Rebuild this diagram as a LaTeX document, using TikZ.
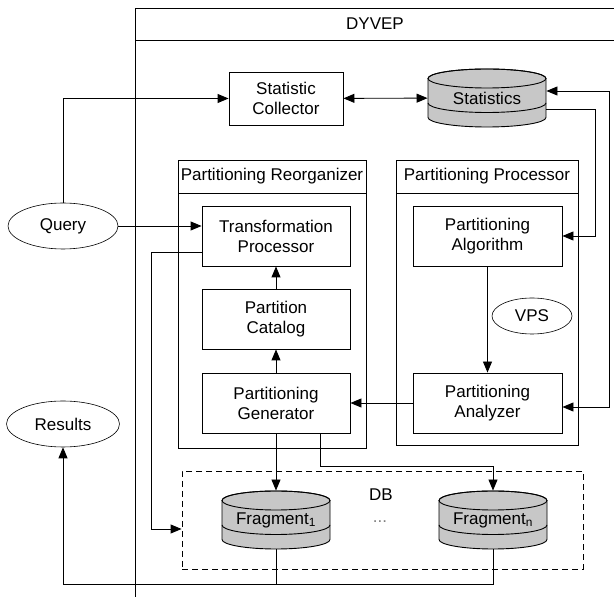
\documentclass[tikz,border=0pt]{standalone}
\usepackage{fontspec}
\setmainfont{Liberation Sans}
\usetikzlibrary{shapes.geometric,arrows.meta}

\definecolor{diskgray}{gray}{0.78}

% Two-level disk: name, centre, half width, text
\newcommand{\dbdisk}[4]{%
	\begin{scope}[shift={(#2)}]
		\draw [fill=diskgray] (-#3,19.5) -- (-#3,-19.5) arc [start angle=180, end angle=360, x radius=#3, y radius=9.5]
			-- (#3,19.5) arc [start angle=0, end angle=180, x radius=#3, y radius=9.5] -- cycle;
		\draw (0,19.5) ellipse [x radius=#3, y radius=9.5];
		\draw (-#3,-5) arc [start angle=180, end angle=360, x radius=#3, y radius=9.5];
	\end{scope}
	\node at (#2) [minimum width={2*#3pt}, minimum height=58pt, inner sep=0pt] (#1) {#4};
}

\begin{document}
\begin{tikzpicture}[x=1pt, y=1pt, line width=0.9pt, >={Triangle[length=11pt, width=9pt]},
	font=\fontsize{17}{20}\selectfont,
	box/.style={draw, minimum width=148pt, minimum height=60pt, inner sep=0pt, align=center},
	oval/.style={draw, ellipse, line width=0.6pt, inner sep=0pt, minimum width=110pt, minimum height=46pt}]
	\useasboundingbox (0,0) rectangle (614,597);

	%% The DYVEP frame -- runs off the page to the right and bottom
	\draw (614,589) -- (135,589) -- (135,0);
	\draw (135,557) -- (614,557);
	\node at (375,573) (dyvep) {DYVEP};

	%% Top row
	\node at (286,498.5) [box, minimum width=114pt, minimum height=53pt] (sc) {Statistic\\Collector};
	\dbdisk{stat}{487,499}{59}{Statistics}

	%% Outside the system
	\node at (63,371) [oval] (query) {Query};
	\node at (63,173) [oval, minimum width=113pt] (results) {Results};

	%% Partitioning Reorganizer
	\draw (178,149) rectangle (366,437);
	\draw (178,404) -- (366,404);
	\node at (272,420.5) (reotitle) {Partitioning Reorganizer};
	\node at (276,361) [box] (tp) {Transformation\\Processor};
	\node at (276,278) [box] (pc) {Partition\\Catalog};
	\node at (276,194) [box] (pg) {Partitioning\\Generator};

	%% Partitioning Processor
	\draw (396,152) rectangle (578,437);
	\draw (396,404) -- (578,404);
	\node at (487,420.5) (protitle) {Partitioning Processor};
	\node at (487.5,361) [box, minimum width=149pt] (pa) {Partitioning\\Algorithm};
	\node at (487.5,194) [box, minimum width=149pt] (pz) {Partitioning\\Analyzer};
	\node at (532,281) [oval, minimum width=80pt, minimum height=36pt] (vps) {VPS};

	%% The database and its fragments
	\node at (382.5,77) [draw, dash pattern=on 6pt off 4pt, minimum width=401pt, minimum height=98pt] (db) {};
	\node at (381,102) (dbtitle) {DB};
	\node at (380,75) [text=gray] (dots) {...};
	\dbdisk{f1}{276,77}{54}{Fragment\textsubscript{1}}
	\dbdisk{fn}{493,77}{54}{Fragment\textsubscript{n}}
	\coordinate (ret) at (63,13);				% where the fragments join

	%% Connectors
	\draw [->] (query) |- (sc);
	\draw [<->] (sc) -- (stat);
	\draw [->] (query) -- (query -| tp.west);
	\draw [->] ([yshift=14pt]tp.south west) -- ++(-50,0) |- ([yshift=-9pt]db.west);
	\draw [->] (pc) -- (tp);
	\draw [->] (pg) -- (pc);
	\draw [->] (pa) -- (pz);
	\draw [->] (pz) -- (pg);
	\draw [->] ([yshift=-11pt]stat.east) -- ++(49,0) |- (pa);
	\draw [<->] ([yshift=7pt]stat.east) -- ++(63,0) |- ([yshift=-4pt]pz.east);
	\draw [->] (pg) -- (f1);
	\draw [->] ([xshift=44pt]pg.south) -- ++(0,-33) -| (fn);
	\draw [->] (fn.south) |- (ret) -- (results);
	\draw (f1.south) -- (f1.south |- ret);
\end{tikzpicture}
\end{document}
